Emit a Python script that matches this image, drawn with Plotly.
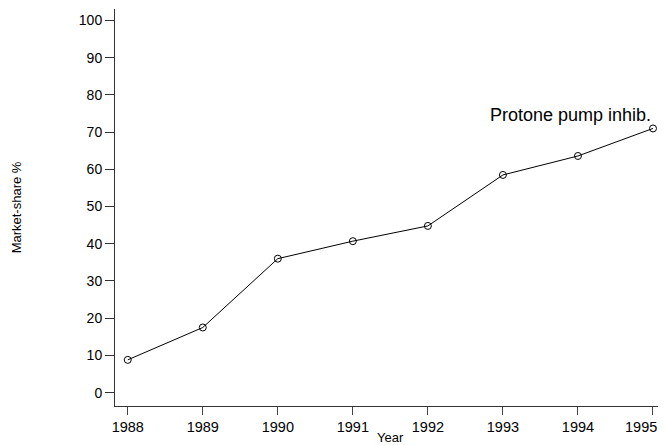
import plotly.graph_objects as go

years = [1988, 1989, 1990, 1991, 1992, 1993, 1994, 1995]
share = [8.8, 17.5, 36.0, 40.7, 44.8, 58.5, 63.6, 71.0]
y_ticks = [0, 10, 20, 30, 40, 50, 60, 70, 80, 90, 100]
x_labels = [str(y) for y in years]
label_text = "Protone pump inhib."

# last tick label is drawn as an annotation nudged left so it stays inside the page
x_ticktext = x_labels[:-1] + [""]

fig = go.Figure()
fig.add_trace(go.Scatter(
    x=years, y=share, mode="lines+markers",
    line=dict(color="black", width=1),
    marker=dict(symbol="circle-open", size=7, color="black", line=dict(width=1)),
    showlegend=False,
))

fig.add_annotation(x=years[-1], y=74.6, text=label_text, showarrow=False,
                   xanchor="right", yanchor="middle", xshift=0,
                   font=dict(size=18, color="black"))
fig.add_annotation(x=years[-1], y=0, yref="paper", text=x_labels[-1],
                   showarrow=False, xanchor="right", yanchor="middle",
                   xshift=6, yshift=-21, font=dict(size=14.5, color="black"))
fig.add_annotation(x=0.5, y=0, xref="paper", yref="paper", text="Year",
                   showarrow=False, xanchor="center", yanchor="middle", yshift=-31,
                   font=dict(size=13, color="black"))

font = "Liberation Sans, Arial, Helvetica, sans-serif"
fig.update_layout(
    width=658, height=437,
    margin=dict(l=107, r=1, t=1, b=39),
    plot_bgcolor="white", paper_bgcolor="white",
    font=dict(family=font, color="black", size=14),
    xaxis=dict(range=[1987.83, 1995.16], tickvals=years, ticktext=x_ticktext,
               ticks="outside", ticklen=8,
               tickcolor="#444", showline=True, linecolor="#333", linewidth=1,
               showgrid=False, zeroline=False, automargin=False,
               tickfont=dict(size=14.5)),
    yaxis=dict(range=[-3.6, 103.1], tickvals=y_ticks, ticks="outside", ticklen=9,
               tickcolor="#333", showline=True, linecolor="#333", linewidth=1,
               showgrid=False, zeroline=False, automargin=False,
               tickfont=dict(size=14),
               title=dict(text="Market-share %", font=dict(size=13), standoff=54)),
)

fig.write_html("out.html")
